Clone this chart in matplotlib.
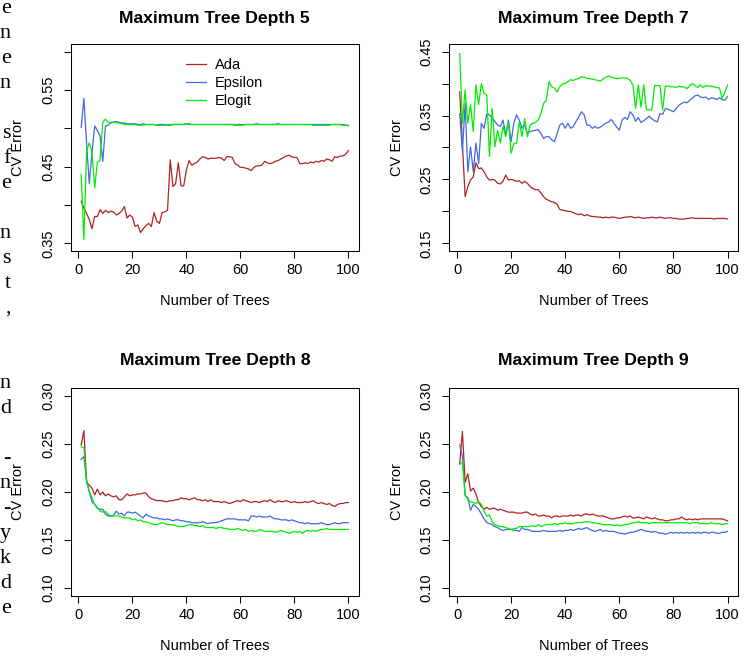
import numpy as np
import matplotlib
matplotlib.use('Agg')
import matplotlib.pyplot as plt

plt.rcParams['font.family'] = ['Liberation Sans', 'DejaVu Sans']

# Datos: error de validación cruzada según el número de árboles
arboles = np.arange(1, 101)
nombres = ['Ada', 'Epsilon', 'Elogit']
profundidades = [5, 7, 8, 9]

ada_5 = [
    0.405, 0.396, 0.389, 0.381, 0.369, 0.385, 0.385, 0.394, 0.389, 0.393,
    0.390, 0.392, 0.391, 0.387, 0.389, 0.392, 0.398, 0.383, 0.387, 0.384,
    0.372, 0.374, 0.364, 0.369, 0.373, 0.376, 0.372, 0.390, 0.379, 0.376,
    0.390, 0.391, 0.393, 0.459, 0.424, 0.428, 0.455, 0.425, 0.425, 0.446,
    0.458, 0.452, 0.454, 0.456, 0.460, 0.463, 0.462, 0.460, 0.461, 0.461,
    0.461, 0.462, 0.461, 0.458, 0.463, 0.463, 0.462, 0.454, 0.452, 0.449,
    0.449, 0.448, 0.447, 0.445, 0.449, 0.451, 0.451, 0.452, 0.457, 0.455,
    0.454, 0.455, 0.457, 0.458, 0.460, 0.462, 0.464, 0.465, 0.463, 0.462,
    0.462, 0.454, 0.454, 0.455, 0.454, 0.456, 0.455, 0.457, 0.456, 0.458,
    0.457, 0.460, 0.459, 0.457, 0.463, 0.462, 0.464, 0.464, 0.466, 0.471]
epsilon_5 = [
    0.501, 0.539, 0.480, 0.428, 0.468, 0.503, 0.497, 0.490, 0.457, 0.503,
    0.504, 0.507, 0.508, 0.509, 0.508, 0.507, 0.507, 0.506, 0.506, 0.506,
    0.506, 0.505, 0.505, 0.506, 0.505, 0.505, 0.505, 0.505, 0.504, 0.505,
    0.505, 0.505, 0.504, 0.504, 0.505, 0.505, 0.505, 0.505, 0.505, 0.506,
    0.505, 0.505, 0.505, 0.505, 0.505, 0.505, 0.505, 0.505, 0.505, 0.505,
    0.505, 0.505, 0.505, 0.505, 0.505, 0.505, 0.505, 0.504, 0.505, 0.505,
    0.505, 0.505, 0.505, 0.505, 0.505, 0.506, 0.505, 0.505, 0.505, 0.505,
    0.505, 0.505, 0.505, 0.506, 0.505, 0.505, 0.505, 0.505, 0.505, 0.505,
    0.505, 0.505, 0.505, 0.505, 0.505, 0.505, 0.505, 0.505, 0.505, 0.505,
    0.505, 0.505, 0.505, 0.505, 0.505, 0.505, 0.505, 0.505, 0.504, 0.504]
elogit_5 = [
    0.440, 0.355, 0.470, 0.481, 0.470, 0.422, 0.456, 0.458, 0.508, 0.512,
    0.508, 0.508, 0.508, 0.507, 0.507, 0.506, 0.505, 0.505, 0.505, 0.505,
    0.505, 0.504, 0.504, 0.504, 0.505, 0.505, 0.505, 0.505, 0.504, 0.504,
    0.504, 0.504, 0.505, 0.505, 0.505, 0.505, 0.505, 0.505, 0.505, 0.506,
    0.506, 0.505, 0.505, 0.505, 0.505, 0.505, 0.505, 0.505, 0.505, 0.505,
    0.505, 0.505, 0.505, 0.505, 0.505, 0.505, 0.505, 0.505, 0.504, 0.504,
    0.504, 0.505, 0.505, 0.505, 0.505, 0.505, 0.505, 0.505, 0.505, 0.505,
    0.505, 0.505, 0.505, 0.505, 0.505, 0.505, 0.505, 0.505, 0.505, 0.505,
    0.505, 0.505, 0.505, 0.505, 0.505, 0.505, 0.504, 0.504, 0.504, 0.504,
    0.504, 0.504, 0.504, 0.505, 0.505, 0.505, 0.505, 0.504, 0.504, 0.503]

ada_7 = [
    0.387, 0.305, 0.223, 0.239, 0.249, 0.254, 0.276, 0.267, 0.268, 0.262,
    0.254, 0.249, 0.250, 0.249, 0.244, 0.243, 0.247, 0.257, 0.249, 0.250,
    0.249, 0.247, 0.248, 0.244, 0.247, 0.244, 0.239, 0.236, 0.234, 0.234,
    0.229, 0.223, 0.219, 0.217, 0.215, 0.214, 0.211, 0.203, 0.202, 0.201,
    0.200, 0.200, 0.198, 0.196, 0.195, 0.196, 0.193, 0.195, 0.193, 0.192,
    0.192, 0.191, 0.191, 0.190, 0.191, 0.190, 0.191, 0.191, 0.190, 0.189,
    0.190, 0.191, 0.191, 0.192, 0.191, 0.190, 0.191, 0.190, 0.189, 0.190,
    0.190, 0.191, 0.190, 0.190, 0.191, 0.190, 0.189, 0.190, 0.190, 0.189,
    0.189, 0.188, 0.188, 0.188, 0.189, 0.189, 0.190, 0.189, 0.189, 0.189,
    0.189, 0.189, 0.189, 0.189, 0.188, 0.189, 0.189, 0.189, 0.189, 0.188]
epsilon_7 = [
    0.353, 0.294, 0.369, 0.262, 0.301, 0.262, 0.307, 0.275, 0.338, 0.330,
    0.353, 0.351, 0.346, 0.341, 0.335, 0.333, 0.343, 0.320, 0.343, 0.309,
    0.338, 0.351, 0.343, 0.330, 0.335, 0.322, 0.325, 0.326, 0.327, 0.328,
    0.322, 0.314, 0.317, 0.317, 0.312, 0.309, 0.322, 0.335, 0.338, 0.330,
    0.338, 0.330, 0.333, 0.341, 0.348, 0.356, 0.351, 0.335, 0.335, 0.330,
    0.333, 0.330, 0.332, 0.335, 0.338, 0.340, 0.344, 0.338, 0.332, 0.327,
    0.343, 0.347, 0.344, 0.356, 0.351, 0.341, 0.347, 0.339, 0.342, 0.345,
    0.349, 0.345, 0.342, 0.340, 0.353, 0.352, 0.361, 0.360, 0.358, 0.356,
    0.361, 0.366, 0.369, 0.371, 0.370, 0.374, 0.377, 0.381, 0.382, 0.379,
    0.378, 0.379, 0.375, 0.378, 0.377, 0.375, 0.378, 0.375, 0.374, 0.380]
elogit_7 = [
    0.447, 0.338, 0.390, 0.338, 0.367, 0.325, 0.398, 0.367, 0.400, 0.385,
    0.382, 0.286, 0.361, 0.301, 0.327, 0.307, 0.333, 0.317, 0.340, 0.291,
    0.306, 0.307, 0.340, 0.317, 0.345, 0.317, 0.335, 0.338, 0.339, 0.343,
    0.353, 0.369, 0.374, 0.403, 0.395, 0.393, 0.387, 0.395, 0.400, 0.400,
    0.403, 0.406, 0.405, 0.407, 0.408, 0.411, 0.410, 0.408, 0.408, 0.407,
    0.406, 0.405, 0.404, 0.407, 0.410, 0.412, 0.410, 0.409, 0.408, 0.408,
    0.409, 0.409, 0.408, 0.405, 0.398, 0.361, 0.398, 0.363, 0.398, 0.359,
    0.359, 0.359, 0.397, 0.397, 0.397, 0.359, 0.396, 0.396, 0.395, 0.395,
    0.394, 0.396, 0.395, 0.395, 0.392, 0.397, 0.400, 0.397, 0.394, 0.398,
    0.394, 0.397, 0.396, 0.396, 0.395, 0.394, 0.393, 0.377, 0.387, 0.398]

ada_8 = [
    0.249, 0.264, 0.210, 0.207, 0.204, 0.197, 0.203, 0.197, 0.200, 0.196,
    0.198, 0.196, 0.195, 0.196, 0.192, 0.192, 0.195, 0.198, 0.196, 0.197,
    0.197, 0.198, 0.198, 0.199, 0.199, 0.195, 0.193, 0.192, 0.191, 0.191,
    0.191, 0.190, 0.190, 0.191, 0.191, 0.192, 0.192, 0.194, 0.193, 0.193,
    0.192, 0.193, 0.194, 0.192, 0.192, 0.191, 0.192, 0.190, 0.192, 0.190,
    0.190, 0.190, 0.189, 0.190, 0.189, 0.188, 0.189, 0.190, 0.191, 0.190,
    0.192, 0.191, 0.190, 0.189, 0.190, 0.190, 0.189, 0.190, 0.191, 0.190,
    0.192, 0.190, 0.189, 0.191, 0.190, 0.190, 0.191, 0.190, 0.189, 0.190,
    0.189, 0.189, 0.189, 0.190, 0.189, 0.190, 0.191, 0.189, 0.188, 0.189,
    0.188, 0.187, 0.188, 0.186, 0.185, 0.187, 0.188, 0.188, 0.189, 0.189]
epsilon_8 = [
    0.234, 0.237, 0.213, 0.200, 0.190, 0.187, 0.183, 0.182, 0.182, 0.177,
    0.175, 0.175, 0.176, 0.180, 0.177, 0.178, 0.175, 0.179, 0.179, 0.178,
    0.179, 0.177, 0.175, 0.173, 0.177, 0.175, 0.174, 0.173, 0.173, 0.172,
    0.172, 0.171, 0.172, 0.171, 0.170, 0.171, 0.171, 0.170, 0.170, 0.169,
    0.169, 0.168, 0.168, 0.168, 0.168, 0.169, 0.168, 0.167, 0.168, 0.168,
    0.168, 0.169, 0.170, 0.171, 0.172, 0.172, 0.172, 0.172, 0.171, 0.171,
    0.171, 0.171, 0.170, 0.175, 0.175, 0.174, 0.175, 0.174, 0.174, 0.174,
    0.175, 0.173, 0.172, 0.172, 0.171, 0.171, 0.171, 0.170, 0.171, 0.170,
    0.169, 0.168, 0.168, 0.167, 0.168, 0.167, 0.167, 0.167, 0.167, 0.168,
    0.167, 0.166, 0.166, 0.167, 0.168, 0.167, 0.167, 0.168, 0.168, 0.168]
elogit_8 = [
    0.247, 0.246, 0.210, 0.201, 0.194, 0.187, 0.184, 0.180, 0.179, 0.180,
    0.177, 0.175, 0.175, 0.175, 0.175, 0.174, 0.173, 0.173, 0.173, 0.171,
    0.172, 0.170, 0.171, 0.169, 0.169, 0.168, 0.167, 0.166, 0.166, 0.167,
    0.168, 0.167, 0.166, 0.166, 0.166, 0.165, 0.164, 0.164, 0.164, 0.165,
    0.166, 0.166, 0.165, 0.165, 0.164, 0.165, 0.163, 0.163, 0.163, 0.163,
    0.162, 0.163, 0.163, 0.162, 0.162, 0.161, 0.161, 0.161, 0.162, 0.161,
    0.160, 0.161, 0.159, 0.160, 0.159, 0.159, 0.161, 0.160, 0.159, 0.159,
    0.159, 0.159, 0.158, 0.159, 0.160, 0.159, 0.158, 0.157, 0.158, 0.159,
    0.158, 0.159, 0.157, 0.159, 0.160, 0.159, 0.160, 0.159, 0.160, 0.161,
    0.161, 0.162, 0.161, 0.161, 0.161, 0.161, 0.161, 0.161, 0.161, 0.161]

ada_9 = [
    0.229, 0.263, 0.210, 0.219, 0.201, 0.204, 0.198, 0.189, 0.185, 0.182,
    0.184, 0.182, 0.183, 0.183, 0.181, 0.182, 0.181, 0.180, 0.179, 0.179,
    0.179, 0.178, 0.178, 0.178, 0.179, 0.179, 0.177, 0.176, 0.177, 0.175,
    0.175, 0.176, 0.175, 0.175, 0.173, 0.175, 0.175, 0.174, 0.175, 0.175,
    0.175, 0.176, 0.175, 0.176, 0.176, 0.175, 0.177, 0.177, 0.176, 0.177,
    0.176, 0.175, 0.175, 0.175, 0.174, 0.173, 0.172, 0.172, 0.173, 0.173,
    0.174, 0.175, 0.174, 0.175, 0.173, 0.173, 0.174, 0.173, 0.172, 0.174,
    0.173, 0.172, 0.173, 0.172, 0.171, 0.171, 0.170, 0.170, 0.171, 0.171,
    0.172, 0.172, 0.174, 0.172, 0.171, 0.172, 0.171, 0.172, 0.171, 0.172,
    0.172, 0.172, 0.172, 0.172, 0.172, 0.172, 0.172, 0.172, 0.171, 0.170]
epsilon_9 = [
    0.249, 0.237, 0.196, 0.194, 0.181, 0.187, 0.185, 0.182, 0.177, 0.172,
    0.168, 0.167, 0.166, 0.164, 0.163, 0.161, 0.160, 0.161, 0.161, 0.161,
    0.160, 0.160, 0.159, 0.163, 0.161, 0.161, 0.160, 0.159, 0.159, 0.159,
    0.159, 0.160, 0.159, 0.159, 0.159, 0.159, 0.159, 0.160, 0.159, 0.160,
    0.160, 0.161, 0.160, 0.161, 0.162, 0.161, 0.162, 0.163, 0.161, 0.160,
    0.159, 0.160, 0.161, 0.159, 0.160, 0.159, 0.159, 0.159, 0.158, 0.157,
    0.157, 0.156, 0.157, 0.158, 0.158, 0.159, 0.160, 0.161, 0.160, 0.159,
    0.159, 0.158, 0.159, 0.158, 0.157, 0.157, 0.156, 0.157, 0.158, 0.157,
    0.158, 0.157, 0.158, 0.157, 0.158, 0.157, 0.158, 0.157, 0.158, 0.157,
    0.158, 0.158, 0.157, 0.158, 0.158, 0.157, 0.157, 0.158, 0.158, 0.159]
elogit_9 = [
    0.229, 0.231, 0.197, 0.192, 0.190, 0.189, 0.188, 0.190, 0.187, 0.180,
    0.175, 0.176, 0.169, 0.166, 0.165, 0.164, 0.164, 0.163, 0.162, 0.161,
    0.162, 0.162, 0.164, 0.164, 0.164, 0.164, 0.164, 0.165, 0.164, 0.166,
    0.164, 0.165, 0.166, 0.166, 0.166, 0.167, 0.166, 0.167, 0.167, 0.168,
    0.167, 0.167, 0.167, 0.168, 0.168, 0.168, 0.169, 0.169, 0.169, 0.168,
    0.168, 0.167, 0.167, 0.166, 0.166, 0.166, 0.166, 0.165, 0.166, 0.165,
    0.165, 0.166, 0.166, 0.167, 0.168, 0.168, 0.169, 0.168, 0.168, 0.168,
    0.167, 0.168, 0.168, 0.168, 0.168, 0.168, 0.168, 0.168, 0.168, 0.168,
    0.168, 0.168, 0.168, 0.168, 0.168, 0.167, 0.168, 0.168, 0.168, 0.167,
    0.167, 0.167, 0.167, 0.168, 0.167, 0.167, 0.167, 0.166, 0.167, 0.167]

# Ticks y etiquetas de cada panel
ticks_x = [0, 20, 40, 60, 80, 100]
ticks_y_5 = [0.35, 0.40, 0.45, 0.50, 0.55, 0.60]
etiquetas_y_5 = ['0.35', '', '0.45', '', '0.55', '']
ticks_y_7 = [0.15, 0.20, 0.25, 0.30, 0.35, 0.40, 0.45]
etiquetas_y_7 = ['0.15', '', '0.25', '', '0.35', '', '0.45']
ticks_y_89 = [0.10, 0.15, 0.20, 0.25, 0.30]
etiquetas_y_89 = ['0.10', '0.15', '0.20', '0.25', '0.30']

# Texto del documento que queda cortado en el margen izquierdo
letras_margen = ['e', 'n', 'e', 'n', 's', 'f', 'e', 'n', 's', 't', ',',
                 'n', 'd', '-', 'n', '-', 'y', 'k', 'd', 'e']
renglones_margen = [0, 1, 2, 3, 5, 6, 7, 9, 10, 11, 12,
                    15, 16, 18, 19, 20, 21, 22, 23, 24]

colores = ['#B22222', '#4169E1', '#00EE00']

ancho, alto = 755, 656
fig = plt.figure(figsize=(ancho / 100, alto / 100), dpi=100)


def caja(izq, arriba, der, abajo):
    # convierte pixeles de la imagen a fracciones de la figura
    return [izq / ancho, 1 - abajo / alto, (der - izq) / ancho, (abajo - arriba) / alto]


def dibujar_panel(rect, prof, series, ylim, ticks_y, etiquetas_y, sep_titulo, leyenda=False):
    ax = fig.add_axes(rect)
    alto_px = rect[3] * alto
    ancho_px = rect[2] * ancho
    for nombre, valores, color in zip(nombres, series, colores):
        ax.plot(arboles, valores, color=color, lw=0.9, label=nombre)
    ax.set_xlim(-2.96, 103.96)
    ax.set_ylim(*ylim)
    ax.set_xticks(ticks_x)
    ax.set_yticks(ticks_y)
    ax.set_yticklabels(etiquetas_y, rotation=90, va='center')
    ax.tick_params(direction='out', length=5, width=0.75, labelsize=10.5, color='black')
    ax.tick_params(axis='x', pad=3.5)
    ax.tick_params(axis='y', pad=6)
    for lado in ax.spines.values():
        lado.set_linewidth(0.75)
    ax.text(0.5, 1 + sep_titulo / alto_px, 'Maximum Tree Depth %d' % prof,
            transform=ax.transAxes, ha='center', va='center',
            fontsize=12.6, fontweight='bold')
    ax.set_xlabel('Number of Trees', fontsize=10.5)
    ax.xaxis.label.set_va('center')
    ax.xaxis.set_label_coords(0.5, -50 / alto_px)
    ax.set_ylabel('CV Error', fontsize=10.5)
    ax.yaxis.label.set_va('center')
    ax.yaxis.set_label_coords(-52 / ancho_px, 0.5)
    if leyenda:
        ax.legend(loc='upper left', bbox_to_anchor=(0.399, 0.93), frameon=False,
                  fontsize=10.5, handlelength=1.4, handletextpad=0.6,
                  labelspacing=0.25, borderpad=0, borderaxespad=0)
    return ax


dibujar_panel(caja(70.5, 44, 359, 251), 5, [ada_5, epsilon_5, elogit_5],
              (0.34, 0.61), ticks_y_5, etiquetas_y_5, 26, leyenda=True)
dibujar_panel(caja(449, 44, 738.3, 251), 7, [ada_7, epsilon_7, elogit_7],
              (0.138, 0.462), ticks_y_7, etiquetas_y_7, 26)
dibujar_panel(caja(70.5, 388.3, 359, 595.7), 8, [ada_8, epsilon_8, elogit_8],
              (0.092, 0.308), ticks_y_89, etiquetas_y_89, 28)
dibujar_panel(caja(449, 388.3, 738.3, 595.7), 9, [ada_9, epsilon_9, elogit_9],
              (0.092, 0.308), ticks_y_89, etiquetas_y_89, 28)

# Letras del texto vecino, cortadas por el borde
for letra, renglon in zip(letras_margen, renglones_margen):
    y_px = 8 + 25 * renglon + 5
    fig.text(11 / ancho, 1 - y_px / alto, letra, ha='right', va='baseline',
             fontsize=16, family=['Liberation Serif', 'DejaVu Serif'])

fig.savefig('out.png', dpi=100)
